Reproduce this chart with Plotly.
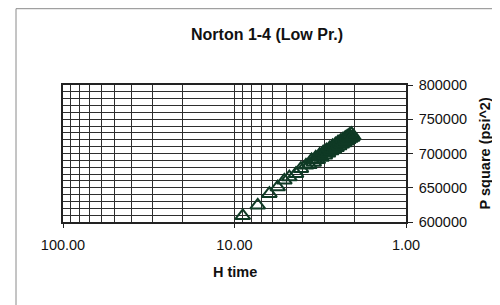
import plotly.graph_objects as go

# Horner time (H) and P^2 values
h_time = [8.95, 7.32, 6.26, 5.60, 5.12, 4.79, 4.38, 4.10, 3.83,
          3.66, 3.55, 3.45, 3.40, 3.36, 3.27, 3.19, 3.15, 3.11, 3.04, 2.97, 2.94, 2.91,
          2.85, 2.79, 2.76, 2.73, 2.68, 2.63, 2.60, 2.58, 2.54, 2.49, 2.47, 2.45, 2.41,
          2.37, 2.35, 2.33, 2.30, 2.26, 2.24, 2.23, 2.20, 2.17, 2.14, 2.12, 2.11, 2.08,
          2.06, 2.03]
p_square = [609000, 624300, 641400, 651000, 660800, 665600, 670600, 677800, 682700,
            683500, 690500, 687000, 690800, 694500, 690800, 698500, 696300, 694000, 702000,
            697500, 701200, 705000, 700500, 708000, 705600, 703500, 711000, 706000, 709800,
            713500, 708500, 716500, 713600, 711000, 718500, 713500, 717100, 721000, 715500,
            723000, 720300, 718000, 725000, 720000, 727000, 724200, 722000, 729000, 723500,
            725500]

x_tickvals = [100, 10, 1]
x_ticktext = ["100.00", "10.00", "1.00"]
x_minor = [90, 80, 70, 60, 50, 40, 30, 20, 9, 8, 7, 6, 5, 4, 3, 2]
y_tickvals = [600000, 650000, 700000, 750000, 800000]
y_ticktext = ["600000", "650000", "700000", "750000", "800000"]

FONT = "Liberation Sans, Arial, sans-serif"
GRID = "#2e2e2e"

fig = go.Figure()
fig.add_trace(go.Scatter(
    x=h_time, y=p_square, mode="markers",
    marker=dict(symbol="triangle-up-open", size=13, color="#0f3a25",
                line=dict(width=2, color="#0f3a25")),
    showlegend=False, cliponaxis=True,
))

# page body has an 8px margin, so the figure is sized to fill the rest of the window
fig.update_layout(
    width=492, height=297,
    margin=dict(l=55, r=94, t=77, b=83),
    paper_bgcolor="white", plot_bgcolor="white",
    font=dict(family=FONT, size=14, color="#111"),
    xaxis=dict(
        type="log", range=[2, 0], automargin=False,
        tickvals=x_tickvals, ticktext=x_ticktext,
        showgrid=True, gridcolor=GRID, gridwidth=1,
        minor=dict(tickvals=x_minor, showgrid=True, gridcolor=GRID, gridwidth=1),
        showline=True, linecolor="#222", linewidth=1.5, mirror=True,
        ticks="outside", ticklen=4, tickcolor="#222", ticklabelstandoff=5,
        tickfont=dict(family=FONT, size=14.5, color="#111"),
        zeroline=False,
    ),
    yaxis=dict(
        side="right", range=[600000, 800000], automargin=False,
        tickvals=y_tickvals, ticktext=y_ticktext,
        showgrid=True, gridcolor=GRID, gridwidth=1,
        minor=dict(dtick=10000, showgrid=True, gridcolor=GRID, gridwidth=1),
        showline=True, linecolor="#222", linewidth=1.5, mirror=True,
        ticks="outside", ticklen=5, tickcolor="#222", ticklabelstandoff=3,
        tickfont=dict(family=FONT, size=14.5, color="#111"),
        zeroline=False,
    ),
    shapes=[dict(type="rect", xref="paper", yref="paper",
                 x0=-0.137, x1=1.4, y0=-0.75, y1=1.557,
                 line=dict(color="#8a8a8a", width=1), layer="below")],
    annotations=[
        dict(text="<b>Norton 1-4 (Low Pr.)</b>", xref="paper", yref="paper",
             x=0.595, y=1.365, showarrow=False, xanchor="center", yanchor="middle",
             font=dict(family=FONT, size=16, color="#111")),
        dict(text="<b>H time</b>", xref="paper", yref="paper",
             x=0.5, y=-0.365, showarrow=False, xanchor="center", yanchor="middle",
             font=dict(family=FONT, size=14.5, color="#111")),
        dict(text="<b>P square (psi^2)</b>", xref="paper", yref="paper",
             x=1.23, y=0.5, showarrow=False, textangle=-90,
             xanchor="center", yanchor="middle",
             font=dict(family=FONT, size=14.5, color="#111")),
    ],
)

fig.write_html("out.html")
